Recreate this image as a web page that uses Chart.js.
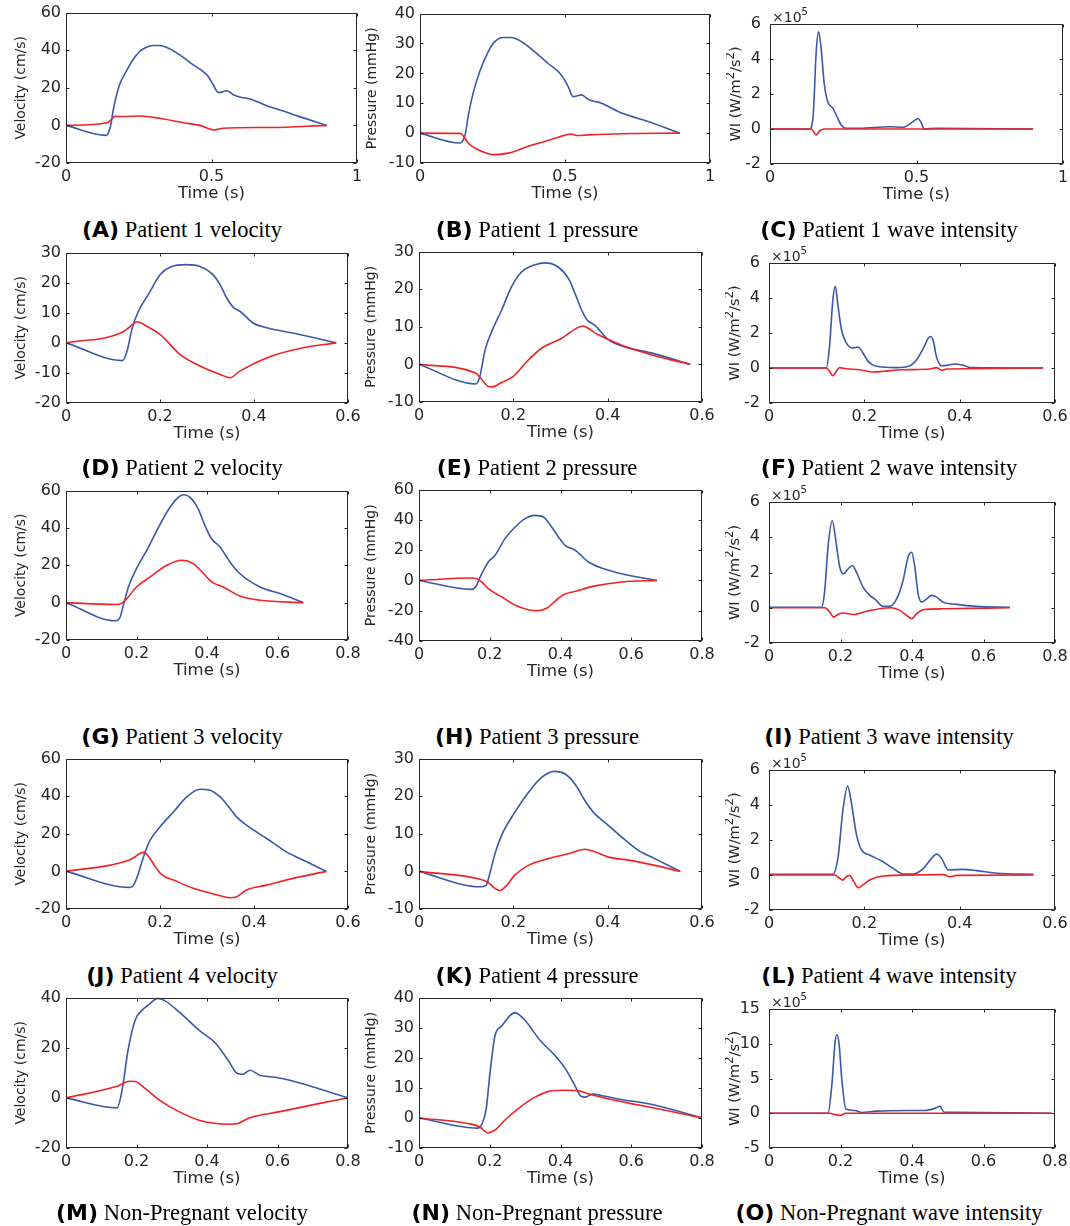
<!DOCTYPE html>
<html><head><meta charset="utf-8">
<script src="https://cdn.jsdelivr.net/npm/chart.js@4.4.1/dist/chart.umd.min.js"></script>
<style>
html,body{margin:0;padding:0;background:#fff;}
#wrap{position:relative;width:1070px;height:1226px;overflow:hidden;background:#fff;}
#wrap canvas{position:absolute;}
.cap{position:absolute;white-space:nowrap;transform:translate(-50%,-50%);color:#000;line-height:1;}
.cap b{font-family:'DejaVu Sans';font-weight:bold;font-size:22px;}
.cap span{font-family:'Liberation Serif';font-size:22.5px;}
</style></head><body><div id="wrap"></div>
<script>
// ---------- tick labels ----------
const xTicks1 = [0, 0.5, 1];
const xTicks06 = [0, 0.2, 0.4, 0.6];
const xTicks08 = [0, 0.2, 0.4, 0.6, 0.8];
const yTicksA = [-20, 0, 20, 40, 60];
const yTicksB = [-10, 0, 10, 20, 30, 40];
const yTicksWI = [-2, 0, 2, 4, 6];
const yTicksD = [-20, -10, 0, 10, 20, 30];
const yTicksE = [-10, 0, 10, 20, 30];
const yTicksG = [-20, 0, 20, 40, 60];
const yTicksH = [-40, -20, 0, 20, 40, 60];
const yTicksM = [-20, 0, 20, 40];
const yTicksN = [-10, 0, 10, 20, 30, 40];
const yTicksO = [-5, 0, 5, 10, 15];

// ---------- captions ----------
const capLetters = ['(A)','(B)','(C)','(D)','(E)','(F)','(G)','(H)','(I)','(J)','(K)','(L)','(M)','(N)','(O)'];
const capTexts = ['Patient 1 velocity','Patient 1 pressure','Patient 1 wave intensity',
  'Patient 2 velocity','Patient 2 pressure','Patient 2 wave intensity',
  'Patient 3 velocity','Patient 3 pressure','Patient 3 wave intensity',
  'Patient 4 velocity','Patient 4 pressure','Patient 4 wave intensity',
  'Non-Pregnant velocity','Non-Pregnant pressure','Non-Pregnant wave intensity'];

// ---------- series (time in s; WI values in units of 1e5) ----------
const aBlueT = [0,0.138,0.147,0.155,0.162,0.172,0.184,0.207,0.23,0.253,0.276,0.299,0.322,0.345,0.391,0.437,0.471,0.489,0.506,0.523,0.534,0.552,0.575,0.6,0.632,0.69,0.747,0.8,0.897];
const aBlueY = [0,-5.3,-3.5,1,8,15,21.6,28.7,34.9,39.3,41.6,42.5,42.5,41.6,37.5,32.2,28.7,26,21.6,17.5,17.7,18.4,16.3,15,14,10.5,7.6,4.8,0];
const aRedT = [0,0.14,0.155,0.168,0.2,0.25,0.322,0.4,0.46,0.51,0.54,0.7,0.897];
const aRedY = [0,1.3,3,4.8,4.7,5,3.8,1.5,0,-2.4,-1.5,-1.1,0];

const bBlueT = [0,0.138,0.148,0.157,0.166,0.183,0.206,0.235,0.258,0.287,0.315,0.35,0.396,0.442,0.488,0.511,0.528,0.54,0.557,0.58,0.626,0.695,0.787,0.896];
const bBlueY = [0,-3.3,-2.5,0,5.6,13.3,20.6,27.2,30.6,32,32,30.6,27.2,23.3,19.4,15.6,12.2,12.4,12.8,11.3,10,6.7,3.9,0];
const bRedT = [0,0.138,0.15,0.166,0.189,0.235,0.258,0.304,0.373,0.43,0.476,0.522,0.54,0.58,0.695,0.896];
const bRedY = [0,-0.1,-1,-3.3,-5,-6.9,-7.2,-6.7,-4.4,-2.8,-1.4,-0.3,-0.8,-0.6,-0.2,0];

const cBlueT = [0,0.135,0.147,0.158,0.166,0.174,0.185,0.197,0.215,0.226,0.243,0.26,0.306,0.408,0.454,0.488,0.505,0.516,0.526,0.568,0.898];
const cBlueY = [0,0,0.7,4.5,5.56,4.7,2.6,1.56,1.18,0.8,0.23,0.04,0.04,0.13,0.1,0.42,0.6,0.36,0,0.04,0];
const cRedT = [0,0.141,0.15,0.158,0.17,0.187,0.898];
const cRedY = [0,0,-0.2,-0.34,-0.1,0,0];

const dBlueT = [0,0.12,0.13,0.14,0.154,0.175,0.2,0.222,0.257,0.285,0.313,0.328,0.342,0.356,0.37,0.398,0.427,0.497,0.575];
const dBlueY = [0,-5.9,-2.7,4.4,10.5,16,22.6,25.2,26,25.4,22.6,19.3,14.9,11.8,10.5,6.6,5,2.8,0];
const dRedT = [0,0.12,0.137,0.151,0.172,0.2,0.243,0.285,0.328,0.349,0.37,0.427,0.497,0.575];
const dRedY = [0,3.5,5.5,7,5.5,2.8,-3.9,-7.7,-10.5,-11.6,-9.4,-5,-1.9,0];

const eBlueT = [0,0.12,0.129,0.14,0.154,0.175,0.196,0.217,0.246,0.267,0.295,0.317,0.331,0.345,0.356,0.373,0.402,0.43,0.5,0.575];
const eBlueY = [0,-5.2,-3.2,3.8,8.7,14.4,20.6,24.5,26.5,27,25.9,22.8,18.8,14.4,11.9,10.4,6.5,4.9,2.8,0];
const eRedT = [0,0.12,0.131,0.147,0.154,0.175,0.2,0.232,0.26,0.302,0.348,0.359,0.373,0.402,0.43,0.5,0.575];
const eRedY = [0,-2.3,-3.7,-5.9,-6,-4.8,-3.2,1.2,4.3,6.9,10.2,9.6,8.4,6.6,5.1,2.3,0];

const fBlueT = [0,0.12,0.127,0.134,0.139,0.145,0.152,0.162,0.176,0.187,0.197,0.208,0.225,0.267,0.296,0.31,0.324,0.338,0.345,0.351,0.362,0.373,0.39,0.408,0.425,0.575];
const fBlueY = [0,0,1.24,3.9,4.67,3.5,2.2,1.43,1.14,1.2,0.86,0.38,0.1,0.02,0.13,0.48,1.14,1.8,1.52,0.67,0.13,0.15,0.23,0.15,0.02,0];
const fRedT = [0,0.12,0.127,0.134,0.141,0.148,0.162,0.19,0.218,0.24,0.28,0.338,0.351,0.362,0.373,0.42,0.575];
const fRedY = [0,0,-0.19,-0.44,-0.2,0.02,-0.04,-0.1,-0.23,-0.19,-0.1,-0.06,0.02,-0.13,-0.06,-0.04,0];

const gBlueT = [0,0.14,0.152,0.163,0.177,0.2,0.229,0.258,0.286,0.314,0.333,0.352,0.375,0.394,0.413,0.437,0.465,0.493,0.55,0.607,0.673];
const gBlueY = [0,-9.7,-8.4,-1.3,8.4,18.2,28,38.7,48.4,55.6,57.8,56.4,50.2,41.3,34.2,29.8,21.8,15.6,8.4,4.9,0];
const gRedT = [0,0.14,0.158,0.173,0.2,0.239,0.286,0.328,0.361,0.39,0.413,0.446,0.493,0.55,0.673];
const gRedY = [0,-1,-0.4,2.2,8.4,13.8,20,22.7,20.9,15.6,11.1,8.4,3.6,1.3,0];

const hBlueT = [0,0.148,0.16,0.173,0.196,0.215,0.243,0.272,0.3,0.328,0.352,0.375,0.394,0.413,0.442,0.479,0.536,0.592,0.673];
const hBlueY = [0,-5.9,-4.3,2.3,12.2,16.6,27.6,35.3,40.8,43,41.9,35.3,28.7,23.2,19.9,12.2,6.7,3.4,0];
const hRedT = [0,0.15,0.163,0.177,0.196,0.234,0.272,0.309,0.333,0.362,0.385,0.408,0.442,0.498,0.574,0.673];
const hRedY = [0,1.6,1.2,-1,-5.4,-10.9,-16.4,-19.3,-20,-18.2,-13.6,-9.4,-7.2,-3.6,-1,0];

const iBlueT = [0,0.147,0.156,0.165,0.177,0.187,0.198,0.209,0.221,0.233,0.245,0.263,0.282,0.3,0.319,0.338,0.357,0.375,0.389,0.399,0.408,0.417,0.427,0.441,0.455,0.469,0.487,0.525,0.58,0.674];
const iBlueY = [0.03,0.03,1,3.44,4.95,3.8,2.3,1.93,2.2,2.4,2.0,1.17,0.7,0.42,0.08,0.08,0.5,1.55,2.87,3.15,2.3,0.8,0.32,0.5,0.7,0.6,0.32,0.19,0.08,0.03];
const iRedT = [0,0.156,0.17,0.181,0.193,0.207,0.235,0.273,0.31,0.343,0.366,0.385,0.399,0.413,0.431,0.487,0.674];
const iRedY = [0,0,-0.25,-0.53,-0.38,-0.3,-0.38,-0.2,-0.06,0,-0.15,-0.43,-0.62,-0.34,-0.11,-0.06,0];

const jBlueT = [0,0.135,0.144,0.154,0.165,0.179,0.2,0.229,0.257,0.285,0.306,0.328,0.349,0.363,0.384,0.427,0.469,0.512,0.554];
const jBlueY = [0,-8.5,-7.3,-1.1,7.8,16.6,23.7,31.7,39.6,43.7,43.2,39.6,33.5,29,24.6,17.5,10.4,5.1,0];
const jRedT = [0,0.135,0.147,0.158,0.166,0.176,0.19,0.204,0.229,0.271,0.314,0.349,0.363,0.384,0.427,0.483,0.554];
const jRedY = [0,6,7.8,9.6,10.1,7.8,2.5,-1.9,-4.6,-9,-12,-14,-13.5,-9.9,-7.3,-3.7,0];

const kBlueT = [0,0.13,0.142,0.15,0.161,0.175,0.203,0.232,0.26,0.288,0.31,0.331,0.352,0.37,0.402,0.43,0.465,0.5,0.554];
const kBlueY = [0,-4.1,-3.7,-0.6,4.7,9.6,15.7,21,25,26.6,25.9,23.2,18.8,15.7,12.2,9.1,5.6,3.4,0];
const kRedT = [0,0.13,0.147,0.161,0.171,0.186,0.203,0.232,0.274,0.317,0.352,0.373,0.402,0.444,0.5,0.554];
const kRedY = [0,-2.1,-3,-4.5,-5.1,-3.7,-1,1.6,3.4,4.7,5.9,5.2,3.8,3,1.6,0];

const lBlueT = [0,0.134,0.145,0.155,0.165,0.173,0.183,0.194,0.211,0.239,0.26,0.282,0.303,0.324,0.341,0.352,0.362,0.376,0.408,0.436,0.478,0.555];
const lBlueY = [0.04,0.04,1.05,3.7,5.08,4.1,2.38,1.43,1.14,0.76,0.38,0.06,0.06,0.38,0.95,1.2,0.95,0.29,0.32,0.25,0.1,0.04];
const lRedT = [0,0.138,0.148,0.155,0.162,0.169,0.178,0.187,0.197,0.211,0.239,0.366,0.38,0.394,0.555];
const lRedY = [0,0,-0.19,-0.29,-0.1,-0.02,-0.38,-0.72,-0.57,-0.29,-0.06,0.02,-0.1,-0.02,0];

const mBlueT = [0,0.145,0.159,0.176,0.196,0.216,0.238,0.26,0.28,0.323,0.38,0.423,0.46,0.485,0.5,0.522,0.55,0.593,0.635,0.8];
const mBlueY = [0,-4,3,19,31,35,37.6,39.7,38.8,34,26.7,22,15,9.8,9.4,11,9,8.2,7,0];
const mRedT = [0,0.145,0.18,0.196,0.224,0.266,0.323,0.38,0.465,0.488,0.52,0.607,0.706,0.8];
const mRedY = [0,4.6,6.6,6.5,3.8,-1,-5.7,-9,-10.5,-10.2,-8,-5.5,-2.6,0];

const nBlueT = [0,0.165,0.178,0.19,0.2,0.215,0.235,0.257,0.271,0.3,0.342,0.384,0.413,0.44,0.458,0.47,0.49,0.526,0.568,0.653,0.8];
const nBlueY = [0,-3.4,-2,3,14.2,27.4,30.7,34,35,32.4,25.8,20.8,16.5,10.9,7.2,6.9,7.9,7.2,6.2,4.6,0];
const nRedT = [0,0.144,0.172,0.195,0.215,0.243,0.286,0.328,0.37,0.413,0.455,0.483,0.54,0.625,0.71,0.8];
const nRedY = [0,-2,-3,-5,-4,-0.7,3.6,6.9,8.9,9.2,8.9,7.9,6.2,4.2,2.2,0];

const oBlueT = [0,0.165,0.176,0.185,0.19,0.196,0.204,0.215,0.24,0.26,0.3,0.395,0.436,0.464,0.478,0.49,0.52,0.79];
const oBlueY = [0,0,4.2,10.3,11.3,10,4.7,0.6,0.4,0.1,0.3,0.4,0.4,0.7,1.0,0.15,0.15,0];
const oRedT = [0,0.17,0.185,0.2,0.215,0.79];
const oRedY = [0,0,-0.2,-0.3,0,0];

// ---------- styles & layout ----------
const BLUE = '#3a58a8', RED = '#ef2226', TXT = '#262626';
const FONT = 'DejaVu Sans';
Chart.defaults.font.family = FONT;

const panels = [
  {kind:'vel', box:[66,12,357,163], x:[0,1], xt:xTicks1, y:[-20,60], yt:yTicksA, b:[aBlueT,aBlueY], r:[aRedT,aRedY]},
  {kind:'pres',box:[420,13,710,163], x:[0,1], xt:xTicks1, y:[-10,40], yt:yTicksB, b:[bBlueT,bBlueY], r:[bRedT,bRedY]},
  {kind:'wi',  box:[770,24,1063,164], x:[0,1], xt:xTicks1, y:[-2,6], yt:yTicksWI, b:[cBlueT,cBlueY], r:[cRedT,cRedY]},
  {kind:'vel', box:[66,252,348,403], x:[0,0.6], xt:xTicks06, y:[-20,30], yt:yTicksD, b:[dBlueT,dBlueY], r:[dRedT,dRedY]},
  {kind:'pres',box:[419,251,702,402], x:[0,0.6], xt:xTicks06, y:[-10,30], yt:yTicksE, b:[eBlueT,eBlueY], r:[eRedT,eRedY]},
  {kind:'wi',  box:[769,263,1055,403], x:[0,0.6], xt:xTicks06, y:[-2,6], yt:yTicksWI, b:[fBlueT,fBlueY], r:[fRedT,fRedY]},
  {kind:'vel', box:[66,490,348,640], x:[0,0.8], xt:xTicks08, y:[-20,60], yt:yTicksG, b:[gBlueT,gBlueY], r:[gRedT,gRedY]},
  {kind:'pres',box:[419,489,702,641], x:[0,0.8], xt:xTicks08, y:[-40,60], yt:yTicksH, b:[hBlueT,hBlueY], r:[hRedT,hRedY]},
  {kind:'wi',  box:[769,502,1055,643], x:[0,0.8], xt:xTicks08, y:[-2,6], yt:yTicksWI, b:[iBlueT,iBlueY], r:[iRedT,iRedY]},
  {kind:'vel', box:[66,758,348,909], x:[0,0.6], xt:xTicks06, y:[-20,60], yt:yTicksG, b:[jBlueT,jBlueY], r:[jRedT,jRedY]},
  {kind:'pres',box:[419,758,702,909], x:[0,0.6], xt:xTicks06, y:[-10,30], yt:yTicksE, b:[kBlueT,kBlueY], r:[kRedT,kRedY]},
  {kind:'wi',  box:[769,770,1055,910], x:[0,0.6], xt:xTicks06, y:[-2,6], yt:yTicksWI, b:[lBlueT,lBlueY], r:[lRedT,lRedY]},
  {kind:'vel', box:[66,997,348,1148], x:[0,0.8], xt:xTicks08, y:[-20,40], yt:yTicksM, b:[mBlueT,mBlueY], r:[mRedT,mRedY]},
  {kind:'pres',box:[419,997,702,1148], x:[0,0.8], xt:xTicks08, y:[-10,40], yt:yTicksN, b:[nBlueT,nBlueY], r:[nRedT,nRedY]},
  {kind:'wi',  box:[769,1009,1055,1148], x:[0,0.8], xt:xTicks08, y:[-5,15], yt:yTicksO, b:[oBlueT,oBlueY], r:[oRedT,oRedY]}
];
const capRowY = [230, 468, 737, 976, 1213];
const capColX = [182, 537, 889];
const yTitles = {vel:'Velocity (cm/s)', pres:'Pressure (mmHg)'};

// ---------- helpers ----------
const pts = (t, v) => t.map((x, i) => ({x, y: v[i]}));
const fmt = v => String(Math.round(v * 100) / 100);

function drawRich(ctx, segs, x, y, size, rot, align, supRatio) {
  ctx.save();
  ctx.translate(x, y);
  if (rot) ctx.rotate(rot);
  const fN = size + 'px "' + FONT + '"', fS = (size * (supRatio || 0.72)) + 'px "' + FONT + '"';
  let total = 0;
  segs.forEach(s => { ctx.font = s.sup ? fS : fN; s.w = ctx.measureText(s.t).width; total += s.w; });
  let cx = align === 'center' ? -total / 2 : 0;
  ctx.textBaseline = 'alphabetic'; ctx.textAlign = 'left'; ctx.fillStyle = TXT;
  segs.forEach(s => { ctx.font = s.sup ? fS : fN; ctx.fillText(s.t, cx, s.sup ? -size * 0.45 : 0); cx += s.w; });
  ctx.restore();
}

const boxPlugin = {
  id: 'mbox',
  afterDraw(chart, args, opts) {
    const {ctx, chartArea: a, scales: {x, y}} = chart;
    const L = Math.round(a.left) + 0.5, R = Math.round(a.right) - 0.5;
    const T = Math.round(a.top) + 0.5, B = Math.round(a.bottom) - 0.5;
    ctx.save();
    ctx.strokeStyle = TXT; ctx.lineWidth = 1;
    ctx.strokeRect(L, T, R - L, B - T);
    ctx.beginPath();
    const tl = 3;
    x.ticks.forEach(t => { const px = Math.round(x.getPixelForValue(t.value)) + 0.5;
      ctx.moveTo(px, B); ctx.lineTo(px, B - tl); ctx.moveTo(px, T); ctx.lineTo(px, T + tl); });
    y.ticks.forEach(t => { const py = Math.round(y.getPixelForValue(t.value)) + 0.5;
      ctx.moveTo(L, py); ctx.lineTo(L + tl, py); ctx.moveTo(R, py); ctx.lineTo(R - tl, py); });
    ctx.stroke();
    ctx.restore();
    if (opts && opts.wi) {
      drawRich(ctx, [{t:'×10'}, {t:'5', sup:true}], a.left + 2, a.top - 2.5, 14, 0, 'left');
      const size = 14.5;
      drawRich(ctx, [{t:'WI (W/m'}, {t:'2', sup:true}, {t:'/s'}, {t:'2', sup:true}, {t:')'}],
        a.left - 35 + size * 0.35, (a.top + a.bottom) / 2, size, -Math.PI / 2, 'center', 0.8);
    }
  }
};

const wrap = document.getElementById('wrap');

panels.forEach((p, idx) => {
  const [L, T, R, B] = p.box;
  const wi = p.kind === 'wi';
  const Wy = wi ? 44 : (p.kind === 'vel' ? 53 : 56);
  const Hx = 42, padT = wi ? 22 : 14, padR = 22;
  const w = Wy + (R - L) + padR, h = padT + (B - T) + Hx;
  const cv = document.createElement('canvas');
  cv.width = w; cv.height = h;
  cv.style.left = (L - Wy) + 'px'; cv.style.top = (T - padT) + 'px';
  cv.style.width = w + 'px'; cv.style.height = h + 'px';
  wrap.appendChild(cv);

  new Chart(cv, {
    type: 'line',
    data: {
      datasets: [
        {data: pts(p.r[0], p.r[1]), borderColor: RED, borderWidth: 1.6, pointRadius: 0, fill: false, cubicInterpolationMode: 'monotone'},
        {data: pts(p.b[0], p.b[1]), borderColor: BLUE, borderWidth: 1.6, pointRadius: 0, fill: false, cubicInterpolationMode: 'monotone'}
      ]
    },
    options: {
      responsive: false, animation: false, devicePixelRatio: 1, events: [],
      layout: {padding: {top: padT, right: padR, left: 0, bottom: 0}},
      plugins: {legend: {display: false}, tooltip: {enabled: false}, mbox: {wi: wi}},
      scales: {
        x: {
          type: 'linear', min: p.x[0], max: p.x[1],
          grid: {display: false, drawTicks: false}, border: {display: false},
          afterBuildTicks: s => { s.ticks = p.xt.map(v => ({value: v})); },
          afterFit: s => { s.height = Hx; },
          ticks: {padding: 4, autoSkip: false, maxRotation: 0, color: TXT, font: {family: FONT, size: 16}, callback: v => fmt(v)},
          title: {display: true, text: 'Time (s)', color: TXT, font: {family: FONT, size: 16.5}, padding: {top: 0, bottom: 1}}
        },
        y: {
          type: 'linear', min: p.y[0], max: p.y[1],
          grid: {display: false, drawTicks: false}, border: {display: false},
          afterBuildTicks: s => { s.ticks = p.yt.map(v => ({value: v})); },
          afterFit: s => { s.width = Wy; },
          ticks: {padding: wi ? 9 : 5, autoSkip: false, color: TXT, font: {family: FONT, size: 16}, callback: v => fmt(v)},
          title: {display: !wi, text: yTitles[p.kind] || '', color: TXT, font: {family: FONT, size: 14}, padding: {top: 0, bottom: 0}}
        }
      }
    },
    plugins: [boxPlugin]
  });

  const cap = document.createElement('div');
  cap.className = 'cap';
  cap.style.left = capColX[idx % 3] + 'px';
  cap.style.top = capRowY[Math.floor(idx / 3)] + 'px';
  const b = document.createElement('b'); b.textContent = capLetters[idx];
  const s = document.createElement('span'); s.textContent = ' ' + capTexts[idx];
  cap.appendChild(b); cap.appendChild(s);
  wrap.appendChild(cap);
});
</script>
</body></html>
